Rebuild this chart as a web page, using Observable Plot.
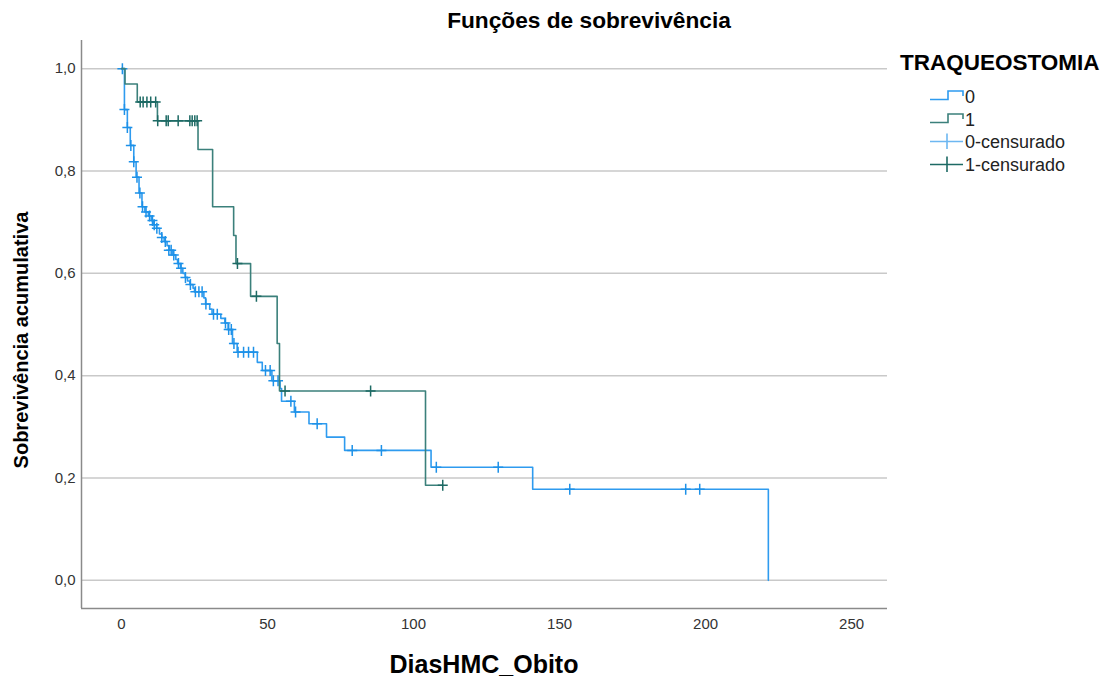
<!DOCTYPE html>
<html><head><meta charset="utf-8">
<script src="https://cdn.jsdelivr.net/npm/d3@7"></script>
<script src="https://cdn.jsdelivr.net/npm/@observablehq/plot@0.6"></script>
<style>
body{margin:0;background:#fff;font-family:"Liberation Sans",Arial,sans-serif;}
#wrap{position:relative;width:1107px;height:684px;overflow:hidden;background:#fff}
#wrap > svg.plot{position:absolute;left:0;top:0}
.lbl{position:absolute;white-space:nowrap;color:#000;font-weight:bold;transform:translate(-50%,-50%)}
#legend{position:absolute;left:0;top:0}
</style></head><body><div id="wrap"></div>
<script>
// ---- data ----
const xTicks = [0, 50, 100, 150, 200, 250];
const yTicks = [0, 0.2, 0.4, 0.6, 0.8, 1.0];

// TRAQUEOSTOMIA = 0 : step points (time, survival)
const g0Time = [0, 1.0, 2.0, 3.0, 4.2, 5.0, 6.0, 7.0, 8.0, 9.2, 10.2, 11.0, 12.0, 13.0, 13.8, 14.6, 15.6, 16.4, 17.4, 18.6, 19.2, 20.2, 21.0, 21.8, 22.6, 23.4, 24.5, 25.0, 28.2, 28.8, 30.2, 31.0, 34.0, 35.4, 36.5, 38.0, 39.6, 46.5, 48.2, 51.5, 54.3, 54.8, 59.2, 64.2, 70.2, 76.4, 106.0, 140.8, 221.5];
const g0Surv = [1.0, 0.92, 0.885, 0.85, 0.818, 0.788, 0.757, 0.73, 0.72, 0.712, 0.703, 0.695, 0.688, 0.677, 0.67, 0.662, 0.654, 0.645, 0.636, 0.627, 0.619, 0.61, 0.60, 0.592, 0.585, 0.578, 0.571, 0.564, 0.552, 0.54, 0.53, 0.52, 0.512, 0.503, 0.49, 0.463, 0.446, 0.426, 0.41, 0.39, 0.375, 0.35, 0.329, 0.306, 0.28, 0.254, 0.221, 0.178, 0.0];
// TRAQUEOSTOMIA = 0 : censored
const g0CensTime = [0.3, 1.0, 2.0, 3.2, 4.2, 5.3, 6.3, 7.2, 8.4, 9.6, 10.6, 11.2, 12.1, 13.8, 15.0, 16.2, 17.0, 17.9, 19.5, 20.4, 21.9, 23.6, 25.3, 26.5, 27.6, 28.9, 31.5, 32.8, 35.6, 36.7, 37.6, 38.5, 39.9, 41.8, 43.5, 45.2, 49.3, 50.9, 52.0, 53.6, 58.0, 59.6, 67.0, 79.0, 89.0, 107.8, 129.0, 153.5, 193.2, 198.0];
const g0CensSurv = [1.0, 0.92, 0.885, 0.85, 0.818, 0.788, 0.757, 0.73, 0.72, 0.712, 0.703, 0.695, 0.688, 0.67, 0.662, 0.645, 0.645, 0.636, 0.619, 0.61, 0.592, 0.578, 0.564, 0.564, 0.564, 0.54, 0.52, 0.52, 0.503, 0.49, 0.49, 0.463, 0.446, 0.446, 0.446, 0.446, 0.41, 0.41, 0.39, 0.39, 0.35, 0.329, 0.306, 0.254, 0.254, 0.221, 0.221, 0.178, 0.178, 0.178];

// TRAQUEOSTOMIA = 1 : step points
const g1Time = [0, 1.2, 5.4, 12.3, 26.2, 31.2, 38.4, 39.2, 44.2, 53.3, 54.1, 104.1, 110.0];
const g1Surv = [1.0, 0.97, 0.935, 0.898, 0.842, 0.73, 0.674, 0.619, 0.555, 0.463, 0.37, 0.186, 0.186];
// TRAQUEOSTOMIA = 1 : censored
const g1CensTime = [6.4, 7.4, 8.7, 10.0, 11.7, 12.4, 15.3, 16.0, 19.4, 23.4, 24.2, 25.1, 25.9, 39.7, 46.2, 56.0, 85.3, 110.0];
const g1CensSurv = [0.935, 0.935, 0.935, 0.935, 0.935, 0.898, 0.898, 0.898, 0.898, 0.898, 0.898, 0.898, 0.898, 0.619, 0.555, 0.37, 0.37, 0.186];

const legendLabels = ["0", "1", "0-censurado", "1-censurado"];

// ---- styling ----
const blueLine = "#2e9bef", blueCens = "#1d91e8";
const greenLine = "#3b807b", greenCens = "#1d6a64";
const font = '"Liberation Sans", Arial, sans-serif';

const zip = (ts, ss) => ts.map((t, i) => ({t, s: ss[i]}));
const g0 = zip(g0Time, g0Surv), g0c = zip(g0CensTime, g0CensSurv);
const g1 = zip(g1Time, g1Surv), g1c = zip(g1CensTime, g1CensSurv);

const plus = {draw(ctx) { ctx.moveTo(-5, 0); ctx.lineTo(5, 0); ctx.moveTo(0, -5.5); ctx.lineTo(0, 5.5); }};
const fmt = d => d.toFixed(1).replace(".", ",");

const xMin = -13.7, xMax = 262.3, yMin = -0.055, yMax = 1.055;

const chart = Plot.plot({
  width: 1107, height: 684,
  marginLeft: 81, marginTop: 40, marginRight: 220, marginBottom: 76,
  x: {domain: [xMin, xMax]},
  y: {domain: [yMin, yMax]},
  style: {fontFamily: font, fontSize: "15px", background: "transparent", color: "#333"},
  marks: [
    Plot.ruleY(yTicks, {stroke: "#c9c9c9", strokeWidth: 1.5}),
    Plot.axisY({ticks: yTicks, tickSize: 0, tickPadding: 6, tickFormat: fmt, label: null, fontSize: 15, fill: "#333"}),
    Plot.axisX({ticks: xTicks, tickSize: 0, tickPadding: 10, tickFormat: d => String(d), label: null, fontSize: 15, fill: "#333"}),
    Plot.ruleX([xMin], {stroke: "#8a8a8a", strokeWidth: 1.5}),
    Plot.ruleY([yMin], {stroke: "#8a8a8a", strokeWidth: 1.5}),
    Plot.line(g0, {x: "t", y: "s", curve: "step-after", stroke: blueLine, strokeWidth: 1.6}),
    Plot.dot(g0c, {x: "t", y: "s", symbol: plus, r: 3, fill: "none", stroke: blueCens, strokeWidth: 1.5}),
    Plot.line(g1, {x: "t", y: "s", curve: "step-after", stroke: greenLine, strokeWidth: 1.6}),
    Plot.dot(g1c, {x: "t", y: "s", symbol: plus, r: 3, fill: "none", stroke: greenCens, strokeWidth: 1.5})
  ]
});
chart.classList.add("plot");
const wrap = document.getElementById("wrap");
wrap.appendChild(chart);

function label(text, cx, cy, size, rot) {
  const d = document.createElement("div");
  d.className = "lbl";
  d.textContent = text;
  d.style.left = cx + "px"; d.style.top = cy + "px";
  d.style.fontSize = size + "px";
  if (rot) d.style.transform = "translate(-50%,-50%) rotate(-90deg)";
  wrap.appendChild(d);
}
label("Funções de sobrevivência", 589, 20, 22.7);
label("DiasHMC_Obito", 484, 664, 25);
label("Sobrevivência acumulativa", 21, 340, 20, true);

// legend
const svg = d3.select(wrap).append("svg").attr("id", "legend").attr("width", 1107).attr("height", 684)
  .style("font-family", font);
svg.append("text").attr("x", 900).attr("y", 70).attr("font-size", 22.5).attr("font-weight", "bold").attr("fill", "#000").text("TRAQUEOSTOMIA");
const rowsY = [96, 119, 141, 164];
const legColors = [blueLine, greenLine, "#6db7f1", greenCens];
legendLabels.forEach((lab, i) => {
  const y = rowsY[i], c = legColors[i];
  if (i < 2) {
    svg.append("path").attr("d", `M930,${y + 3.5}H948V${y - 5}H963V${y}`).attr("fill", "none").attr("stroke", c).attr("stroke-width", 1.6);
  } else {
    svg.append("path").attr("d", `M930,${y + 0.5}H963M947,${y - 7.5}V${y + 8}`).attr("fill", "none").attr("stroke", c).attr("stroke-width", 1.6);
  }
  svg.append("text").attr("x", 965).attr("y", y + 6.5).attr("font-size", 18).attr("fill", "#222").text(lab);
});
</script>
</body></html>
